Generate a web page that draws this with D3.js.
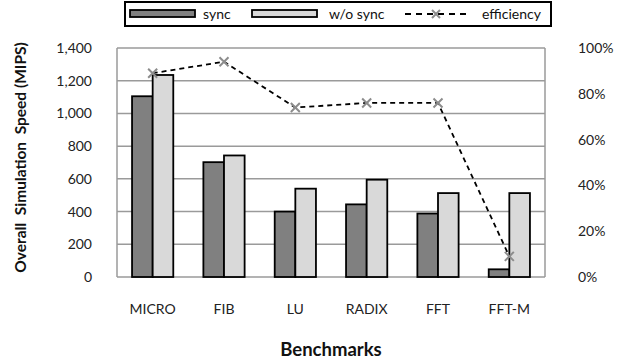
<!DOCTYPE html>
<html>
<head>
<meta charset="utf-8">
<script src="https://cdn.jsdelivr.net/npm/d3@7"></script>
<style>
  body { margin: 0; background: #fff; }
  svg { display: block; font-family: Lato, "Open Sans", sans-serif; }
</style>
</head>
<body>
<div id="chart"></div>
<script>
const benchmarks = ["MICRO", "FIB", "LU", "RADIX", "FFT", "FFT-M"];
const syncSpeed = [1105, 702, 400, 444, 388, 47];
const noSyncSpeed = [1235, 743, 540, 595, 513, 513];
const efficiency = [0.89, 0.94, 0.74, 0.76, 0.76, 0.09];
const speedTicks = [0, 200, 400, 600, 800, 1000, 1200, 1400];
const effTicks = [0, 0.2, 0.4, 0.6, 0.8, 1.0];

const width = 623, height = 364;
const margin = { top: 48, right: 78, bottom: 87, left: 117 };

const svg = d3.select("#chart").append("svg")
  .attr("width", width)
  .attr("height", height);

const x = d3.scaleBand()
  .domain(benchmarks)
  .range([margin.left, width - margin.right]);

const xInner = d3.scaleBand()
  .domain(["sync", "nosync"])
  .range([0, x.bandwidth()])
  .paddingOuter(0.73)
  .paddingInner(0);

const y = d3.scaleLinear().domain([0, 1400]).range([height - margin.bottom, margin.top]);
const yr = d3.scaleLinear().domain([0, 1]).range([height - margin.bottom, margin.top]);

// grid lines
svg.append("g")
  .selectAll("line")
  .data(speedTicks)
  .join("line")
  .attr("x1", margin.left)
  .attr("x2", width - margin.right)
  .attr("y1", d => y(d))
  .attr("y2", d => y(d))
  .attr("stroke", "#9a9a9a")
  .attr("stroke-width", 1.5);

// side axis lines
svg.append("g")
  .selectAll("line")
  .data([margin.left, width - margin.right])
  .join("line")
  .attr("x1", d => d).attr("x2", d => d)
  .attr("y1", y(0)).attr("y2", y(1400))
  .attr("stroke", "#9a9a9a")
  .attr("stroke-width", 1.5);

// left axis
const yAxis = svg.append("g")
  .attr("transform", `translate(${margin.left},0)`)
  .call(d3.axisLeft(y).tickValues(speedTicks).tickFormat(d3.format(",")).tickSize(0).tickPadding(25));
yAxis.select(".domain").remove();
yAxis.selectAll("text").attr("font-size", 14).attr("fill", "#222").attr("font-family", "Lato");

// right axis
const yrAxis = svg.append("g")
  .attr("transform", `translate(${width - margin.right},0)`)
  .call(d3.axisRight(yr).tickValues(effTicks).tickFormat(d3.format(".0%")).tickSize(0).tickPadding(33));
yrAxis.select(".domain").remove();
yrAxis.selectAll("text").attr("font-size", 14).attr("fill", "#222").attr("font-family", "Lato");

// x axis labels
const xAxis = svg.append("g")
  .attr("transform", `translate(0,${y(0)})`)
  .call(d3.axisBottom(x).tickSize(0).tickPadding(27));
xAxis.select(".domain").remove();
xAxis.selectAll("text").attr("font-size", 14).attr("fill", "#222").attr("font-family", "Lato");

// bars
const groups = svg.append("g")
  .selectAll("g")
  .data(benchmarks)
  .join("g")
  .attr("transform", d => `translate(${x(d)},0)`);

groups.append("rect")
  .attr("x", xInner("sync"))
  .attr("width", xInner.bandwidth())
  .attr("y", (d, i) => y(syncSpeed[i]))
  .attr("height", (d, i) => y(0) - y(syncSpeed[i]))
  .attr("fill", "#808080")
  .attr("stroke", "#000")
  .attr("stroke-width", 1.8);

groups.append("rect")
  .attr("x", xInner("nosync"))
  .attr("width", xInner.bandwidth())
  .attr("y", (d, i) => y(noSyncSpeed[i]))
  .attr("height", (d, i) => y(0) - y(noSyncSpeed[i]))
  .attr("fill", "#d9d9d9")
  .attr("stroke", "#000")
  .attr("stroke-width", 1.8);

// efficiency line
const line = d3.line()
  .x((d, i) => x(benchmarks[i]) + x.bandwidth() / 2)
  .y(d => yr(d));

svg.append("path")
  .datum(efficiency)
  .attr("d", line)
  .attr("fill", "none")
  .attr("stroke", "#000")
  .attr("stroke-width", 1.8)
  .attr("stroke-dasharray", "5,4");

const cross = (cx, cy, s) => `M${cx - s},${cy - s}L${cx + s},${cy + s}M${cx - s},${cy + s}L${cx + s},${cy - s}`;

svg.append("g")
  .selectAll("path")
  .data(efficiency)
  .join("path")
  .attr("d", (d, i) => cross(x(benchmarks[i]) + x.bandwidth() / 2, yr(d), 4.5))
  .attr("stroke", "#8c8c8c")
  .attr("stroke-width", 2)
  .attr("fill", "none");

// axis titles
svg.append("text")
  .attr("x", (margin.left + width - margin.right) / 2)
  .attr("y", 356)
  .attr("text-anchor", "middle")
  .attr("font-size", 18.5)
  .attr("font-weight", "bold")
  .attr("fill", "#111")
  .text("Benchmarks");

svg.append("text")
  .attr("transform", `translate(26,${(y(0) + 38) / 2}) rotate(-90)`)
  .attr("text-anchor", "middle")
  .attr("font-size", 15.5)
  .attr("font-weight", "bold")
  .attr("fill", "#111")
  .style("white-space", "pre")
  .text("Overall  Simulation  Speed (MIPS)");

// legend
const legend = svg.append("g");
legend.append("rect")
  .attr("x", 125).attr("y", 2)
  .attr("width", 426).attr("height", 24)
  .attr("fill", "#fff")
  .attr("stroke", "#000")
  .attr("stroke-width", 2);

const legendItems = [
  { label: "sync", kind: "bar", fill: "#808080", sx: 130, tx: 203 },
  { label: "w/o sync", kind: "bar", fill: "#d9d9d9", sx: 252, tx: 329 },
  { label: "efficiency", kind: "line", sx: 405, tx: 482 }
];

legendItems.forEach(it => {
  if (it.kind === "bar") {
    legend.append("rect")
      .attr("x", it.sx).attr("y", 10)
      .attr("width", 65).attr("height", 7)
      .attr("fill", it.fill)
      .attr("stroke", "#000")
      .attr("stroke-width", 1.8);
  } else {
    legend.append("line")
      .attr("x1", it.sx).attr("x2", it.sx + 63)
      .attr("y1", 14).attr("y2", 14)
      .attr("stroke", "#000")
      .attr("stroke-width", 1.8)
      .attr("stroke-dasharray", "6,5");
    legend.append("path")
      .attr("d", cross(it.sx + 31, 14, 4))
      .attr("stroke", "#8c8c8c")
      .attr("stroke-width", 2)
      .attr("fill", "none");
  }
  legend.append("text")
    .attr("x", it.tx).attr("y", 18.5)
    .attr("font-size", 14)
    .attr("fill", "#111")
    .text(it.label);
});
</script>
</body>
</html>
